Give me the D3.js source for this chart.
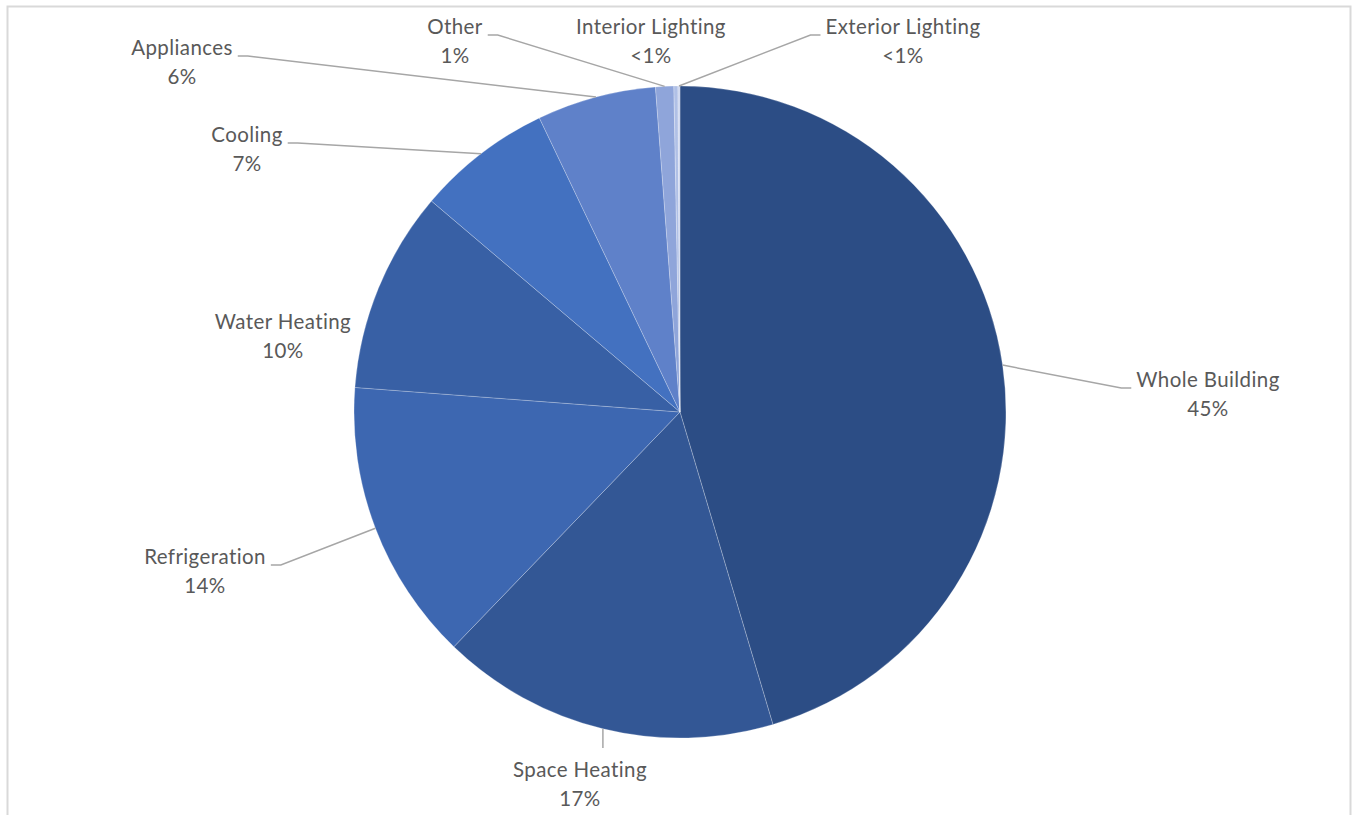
<!DOCTYPE html>
<html>
<head>
<meta charset="utf-8">
<script src="https://cdn.jsdelivr.net/npm/d3@7"></script>
<style>
  html, body { margin: 0; padding: 0; background: #ffffff; }
  svg { display: block; }
  text { font-family: Lato, "Open Sans", sans-serif; fill: #595959; letter-spacing: 0.4px; }
</style>
</head>
<body>
<script>
// ---- data ----
const categories = ["Whole Building", "Space Heating", "Refrigeration", "Water Heating",
  "Cooling", "Appliances", "Other", "Interior Lighting", "Exterior Lighting"];
const values = [45.4, 16.8, 14.0, 10.0, 6.7, 5.9, 0.9, 0.2, 0.1];
const valueLabels = ["45%", "17%", "14%", "10%", "7%", "6%", "1%", "<1%", "<1%"];
const colors = ["#2c4d85", "#335795", "#3d67b1", "#3860a5", "#4371c0",
  "#5f81c9", "#8fa5da", "#b0c0e6", "#cdd6ee"];

// ---- layout (label placement, not data) ----
const labelPos = {
  "Whole Building":    {x: 1208, y: 380, leader: true, side: "left"},
  "Space Heating":     {x: 580,  y: 770, leader: true, side: "top"},
  "Refrigeration":     {x: 205,  y: 557, leader: true, side: "right"},
  "Water Heating":     {x: 283,  y: 322, leader: false},
  "Cooling":           {x: 247,  y: 135, leader: true, side: "right"},
  "Appliances":        {x: 182,  y: 48,  leader: true, side: "right"},
  "Other":             {x: 455,  y: 27,  leader: true, side: "right"},
  "Interior Lighting": {x: 651,  y: 27,  leader: false},
  "Exterior Lighting": {x: 903,  y: 27,  leader: true, side: "left"}
};

const W = 1356, H = 815;
const cx = 680, cy = 412, R = 326;
const fontSize = 20.5;

const svg = d3.select("body").append("svg").attr("width", W).attr("height", H);

// chart frame
svg.append("rect")
  .attr("x", 7.5).attr("y", 6.5).attr("width", 1343).attr("height", 840)
  .attr("fill", "none").attr("stroke", "#d9d9d9").attr("stroke-width", 2);

const data = categories.map((c, i) => ({name: c, value: values[i], label: valueLabels[i], color: colors[i]}));

const pie = d3.pie().value(d => d.value).sort(null);
const arcs = pie(data);
const arc = d3.arc().innerRadius(0).outerRadius(R);

const g = svg.append("g").attr("transform", `translate(${cx},${cy})`);
g.selectAll("path.slice").data(arcs).enter().append("path")
  .attr("class", "slice")
  .attr("d", arc)
  .attr("fill", d => d.data.color)
  .attr("stroke", "#ffffff")
  .attr("stroke-width", 0.6)
  .attr("stroke-opacity", 0.4);

// leader lines
const leaders = svg.append("g").attr("fill", "none").attr("stroke", "#a6a6a6").attr("stroke-width", 1.5);
arcs.forEach(a => {
  const lp = labelPos[a.data.name];
  if (!lp.leader) return;
  const mid = (a.startAngle + a.endAngle) / 2;
  const sx = cx + R * Math.sin(mid), sy = cy - R * Math.cos(mid);
  const tmp = svg.append("text").attr("font-size", fontSize).text(a.data.name);
  const w = tmp.node().getComputedTextLength();
  tmp.remove();
  let pts;
  if (lp.side === "left") {
    const ex = lp.x - w / 2 - 5, ey = lp.y + 8;
    pts = [[sx, sy], [ex - 10, ey], [ex, ey]];
  } else if (lp.side === "right") {
    const ex = lp.x + w / 2 + 5, ey = lp.y + 8;
    pts = [[sx, sy], [ex + 10, ey], [ex, ey]];
  } else {
    pts = [[sx, sy], [sx, lp.y - 22]];
  }
  leaders.append("path").attr("d", d3.line()(pts));
});

// labels
const labels = svg.append("g");
arcs.forEach(a => {
  const lp = labelPos[a.data.name];
  const t = labels.append("text")
    .attr("text-anchor", "middle")
    .attr("font-size", fontSize);
  t.append("tspan").attr("x", lp.x).attr("y", lp.y + 7).text(a.data.name);
  t.append("tspan").attr("x", lp.x).attr("y", lp.y + 36).text(a.data.label);
});
</script>
</body>
</html>
